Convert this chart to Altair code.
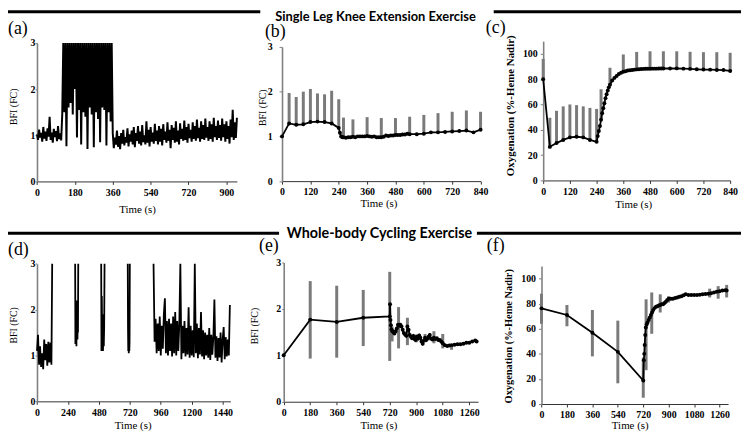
import altair as alt
import pandas as pd

W, H = 744, 426
SERIF = "Liberation Serif"
SANS = "Lato"

# ---------------- data ----------------
headings = ["Single Leg Knee Extension Exercise", "Whole-body Cycling Exercise"]
panel_labels = ["(a)", "(b)", "(c)", "(d)", "(e)", "(f)"]

# (a) knee extension, raw BFI trace sampled every 5 s (0-950 s)
a_step = 5
a_rest = [1.02, 0.90, 1.12, 0.95, 1.05, 0.86, 1.18, 0.93, 1.08, 0.88, 1.15, 0.97,
          1.40, 0.90, 1.06, 0.84, 1.14, 0.96, 1.09, 0.87, 1.20, 0.92, 1.04, 0.89]
a_exercise = [1.45, 3.6, 1.5, 3.4, 0.76, 3.6, 1.6, 3.5, 1.7, 3.6,
              1.45, 3.4, 2.0, 3.6, 0.95, 3.5, 1.55, 3.6, 0.8, 3.5,
              1.5, 3.6, 1.4, 3.5, 0.7, 3.6, 1.6, 3.4, 1.45, 3.6,
              0.74, 3.5, 1.5, 3.6, 1.35, 3.5, 0.85, 3.6, 1.6, 3.4,
              1.55, 3.6, 0.78, 3.5, 1.5, 3.6, 1.3, 3.5]
a_recovery = [1.05, 0.72, 0.95, 0.80, 1.10, 0.75, 0.98, 0.70, 1.05, 0.82,
              1.12, 0.78, 0.96, 0.84, 1.15, 0.76, 1.02, 0.86, 1.10, 0.80,
              1.18, 0.74, 1.05, 0.88, 1.20, 0.82, 1.08, 0.78, 1.22, 0.85,
              1.00, 0.80, 1.30, 0.84, 1.12, 0.76, 1.18, 0.86, 1.06, 0.82,
              1.25, 0.88, 1.10, 0.80, 1.20, 0.86, 1.14, 0.78, 1.24, 0.90,
              1.08, 0.84, 1.28, 0.88, 1.12, 0.72, 1.22, 0.90, 1.16, 0.84,
              1.30, 0.86, 1.10, 0.80, 1.26, 0.92, 1.14, 0.88, 1.32, 0.90,
              1.18, 0.84, 1.25, 0.94, 1.12, 0.86, 1.28, 0.92, 1.20, 0.88,
              1.34, 0.94, 1.16, 0.86, 1.30, 0.92, 1.22, 0.90, 1.36, 0.95,
              1.18, 0.88, 1.30, 0.92, 1.24, 0.86, 1.38, 0.96, 1.20, 0.90,
              1.32, 0.94, 1.22, 0.88, 1.36, 0.96, 1.24, 0.86, 1.30, 0.92,
              1.20, 0.82, 1.34, 0.96, 1.55, 0.90, 1.28, 0.94, 1.38]

# (b) knee extension, mean BFI with upper SD bars
b_t = [0, 30, 60, 90, 120, 150, 180, 210, 240, 245, 250, 255, 260, 270, 280, 290, 300,
       310, 320, 330, 340, 350, 360, 370, 380, 390, 400, 410, 420, 430, 440, 450, 460,
       470, 480, 490, 500, 510, 520, 530, 540, 570, 600, 630, 660, 690, 720, 750, 780,
       810, 840]
b_mean = [1.00, 1.29, 1.26, 1.27, 1.32, 1.33, 1.32, 1.29, 1.19, 1.08, 1.00, 0.98, 0.98,
          0.97, 0.98, 0.98, 0.99, 0.98, 1.00, 1.00, 1.00, 1.00, 1.01, 1.00, 0.99, 1.00,
          0.98, 0.98, 0.98, 0.99, 1.02, 1.01, 1.02, 1.02, 1.03, 1.03, 1.03, 1.04, 1.04,
          1.06, 1.05, 1.05, 1.06, 1.09, 1.09, 1.10, 1.11, 1.12, 1.13, 1.09, 1.15]
b_err_t = [30, 60, 90, 120, 150, 180, 210, 240, 260, 300, 360, 420, 480, 540, 600, 660,
           720, 780, 840]
b_err_hi = [1.97, 1.88, 2.00, 2.06, 1.96, 1.94, 2.02, 1.83, 1.42, 1.38, 1.43, 1.41, 1.41,
            1.44, 1.48, 1.52, 1.55, 1.58, 1.55]

# (c) knee extension, oxygenation
c_t = [0, 30, 60, 90, 120, 150, 180, 210, 240, 245, 250, 255, 260, 265, 270, 275, 280,
       285, 290, 295, 300, 310, 320, 330, 340, 350, 360, 370, 380, 390, 400, 410, 420,
       430, 440, 450, 460, 470, 480, 490, 500, 510, 520, 530, 540, 570, 600, 630, 660,
       690, 720, 750, 780, 810, 840]
c_mean = [80.0, 26.5, 29.5, 32.0, 34.0, 34.5, 34.0, 32.0, 30.5, 35.0, 39.0, 43.0, 48.0,
          53.0, 57.0, 61.0, 65.0, 68.0, 71.0, 73.5, 75.5, 79.0, 81.0, 82.5, 84.0, 85.0,
          85.8, 86.3, 86.8, 87.0, 87.3, 87.5, 87.7, 87.8, 88.0, 88.1, 88.2, 88.2, 88.2,
          88.3, 88.3, 88.3, 88.4, 88.4, 88.4, 88.4, 88.5, 88.3, 88.1, 87.8, 87.6, 87.5,
          87.3, 87.2, 86.5]
c_err_t = [0, 30, 60, 90, 120, 150, 180, 210, 240, 260, 300, 360, 420, 480, 540, 600,
           660, 720, 780, 840]
c_err_hi = [96.0, 49.5, 55.0, 58.5, 60.0, 59.5, 58.5, 57.3, 56.5, 72.0, 89.0, 99.5,
            101.5, 102.0, 102.0, 102.0, 101.6, 101.3, 101.3, 100.8]

# (d) cycling, raw BFI trace (segments separated by gaps)
d1_t = [0, 8, 16, 24, 32, 40, 48, 56, 64, 72, 80, 88, 96, 104, 112, 118]
d1_v = [1.10, 1.45, 0.80, 1.20, 0.75, 1.05, 0.70, 1.35, 0.90, 1.25, 0.78, 1.30, 0.85,
        1.28, 0.80, 3.5]
d2_t = [296, 298, 300, 302, 304, 306, 308, 310, 312, 314, 316, 318, 320]
d2_v = [3.5, 1.25, 2.1, 1.3, 1.9, 1.2, 2.2, 1.4, 1.8, 1.35, 2.0, 1.5, 3.5]
d3_t = [498, 500, 503, 506, 509, 512, 515, 518, 521, 524]
d3_v = [3.5, 1.1, 2.3, 1.15, 1.9, 1.1, 1.8, 1.2, 1.6, 3.5]
d4_t = [704, 706, 708, 710, 712, 714, 716, 718, 720]
d4_v = [3.5, 1.6, 1.1, 1.5, 1.05, 1.4, 1.1, 1.3, 3.5]
d5_start, d5_step = 904, 8
d5_v = [3.5, 1.30, 1.80, 1.05, 1.70, 1.10, 1.85, 1.00, 1.65, 1.15,
        1.90, 2.25, 1.05, 1.75, 1.00, 1.80, 1.10, 1.70, 0.98, 1.85,
        1.05, 1.95, 1.00, 1.75, 1.10, 1.70, 3.5, 0.92, 1.65, 1.05,
        1.75, 0.98, 1.60, 1.02, 2.05, 0.95, 1.65, 1.00, 1.55, 0.96,
        3.5, 1.05, 1.70, 0.94, 1.60, 1.02, 1.95, 0.98, 1.55, 0.92,
        1.50, 1.00, 1.45, 0.95, 1.60, 0.90, 1.45, 1.02, 1.40, 2.22,
        0.95, 1.42, 0.88, 1.38, 0.96, 1.50, 0.85, 1.35, 1.62, 0.92,
        1.40, 0.98, 1.35, 1.00, 2.10]

# (e) cycling, mean BFI with SD bars
e_t = [0, 180, 360, 540, 720, 722, 725, 728, 732, 738, 745, 752, 760, 768, 776, 784, 792,
       800, 808, 816, 824, 832, 840, 848, 856, 864, 872, 880, 888, 896, 904, 912, 920,
       928, 936, 944, 952, 960, 968, 976, 984, 992, 1000, 1010, 1020, 1030, 1040, 1050,
       1060, 1070, 1080, 1095, 1110, 1125, 1140, 1160, 1180, 1200, 1220, 1240, 1260,
       1280, 1300, 1310]
e_mean = [1.00, 1.77, 1.72, 1.81, 1.84, 2.10, 1.76, 1.65, 1.56, 1.52, 1.50, 1.47, 1.52,
          1.58, 1.66, 1.64, 1.66, 1.62, 1.55, 1.48, 1.45, 1.42, 1.62, 1.55, 1.44, 1.40,
          1.37, 1.42, 1.35, 1.33, 1.40, 1.36, 1.43, 1.38, 1.30, 1.25, 1.32, 1.38, 1.33,
          1.36, 1.40, 1.44, 1.36, 1.34, 1.38, 1.35, 1.37, 1.33, 1.33, 1.30, 1.26, 1.22,
          1.20, 1.21, 1.22, 1.23, 1.24, 1.24, 1.25, 1.27, 1.27, 1.30, 1.32, 1.30]
e_err_t = [180, 360, 540, 720, 736, 780, 840, 900, 960, 1020, 1080, 1140]
e_err_lo = [0.93, 0.95, 1.20, 0.88, 1.30, 1.15, 1.22, 1.28, 1.28, 1.26, 1.15, 1.12]
e_err_hi = [2.60, 2.50, 2.41, 2.80, 1.62, 2.04, 1.81, 1.45, 1.46, 1.52, 1.46, 1.24]

# (f) cycling, oxygenation
f_t = [0, 180, 360, 540, 720, 724, 727, 730, 734, 738, 744, 750, 758, 766, 774, 782, 790,
       800, 810, 820, 830, 840, 850, 860, 870, 880, 890, 900, 915, 930, 945, 960, 975,
       990, 1005, 1020, 1040, 1060, 1080, 1100, 1120, 1140, 1160, 1180, 1200, 1220,
       1240, 1260, 1280, 1300, 1310]
f_mean = [76.3, 71.0, 56.8, 41.6, 18.7, 35.0, 40.0, 47.0, 55.0, 61.0, 63.5, 65.0, 67.0,
          69.0, 71.0, 73.0, 75.0, 76.5, 77.5, 78.0, 78.5, 79.0, 79.5, 79.5, 80.5, 81.5,
          83.0, 84.0, 84.0, 84.0, 84.5, 85.0, 85.5, 86.0, 86.8, 87.5, 87.0, 87.0, 87.0,
          87.0, 87.2, 87.5, 87.8, 88.0, 88.3, 89.0, 89.5, 90.0, 90.5, 90.8, 90.5]
f_err_t = [0, 180, 360, 540, 720, 740, 780, 840, 900, 1190, 1250, 1310]
f_err_lo = [64.0, 62.0, 38.0, 16.5, 5.0, 27.0, 56.0, 73.0, 81.0, 85.0, 84.0, 85.0]
f_err_hi = [88.0, 79.0, 75.0, 66.5, 37.0, 83.5, 89.0, 87.5, 86.0, 92.0, 94.0, 95.0]

# ---------------- tables ----------------
a_vals = a_rest + a_exercise + a_recovery
df_a = pd.DataFrame({"t": [i * a_step for i in range(len(a_vals))], "v": a_vals})

d5_t = [d5_start + i * d5_step for i in range(len(d5_v))]
df_d = pd.concat([
    pd.DataFrame({"t": tt, "v": vv, "seg": k})
    for k, (tt, vv) in enumerate([(d1_t, d1_v), (d2_t, d2_v), (d3_t, d3_v),
                                  (d4_t, d4_v), (d5_t, d5_v)])
], ignore_index=True)

b_lookup = dict(zip(b_t, b_mean))
c_lookup = dict(zip(c_t, c_mean))
df_b = pd.DataFrame({"t": b_t, "v": b_mean})
df_b_err = pd.DataFrame({"t": b_err_t, "lo": [b_lookup[t] for t in b_err_t], "hi": b_err_hi})
df_c = pd.DataFrame({"t": c_t, "v": c_mean})
df_c_err = pd.DataFrame({"t": c_err_t, "lo": [c_lookup[t] for t in c_err_t], "hi": c_err_hi})
df_e = pd.DataFrame({"t": e_t, "v": e_mean})
df_e_err = pd.DataFrame({"t": e_err_t, "lo": e_err_lo, "hi": e_err_hi})
df_f = pd.DataFrame({"t": f_t, "v": f_mean})
df_f_err = pd.DataFrame({"t": f_err_t, "lo": f_err_lo, "hi": f_err_hi})

# ---------------- panel geometry (plot-area pixels) ----------------
P = {
    "a": dict(xdom=[0, 950], xr=[29.3, 231.4], ydom=[0, 3], yr=[173, 33],
              xticks=[0, 180, 360, 540, 720, 900], yticks=[0, 1, 2, 3], ytitle="BFI (FC)",
              xt=[130.5, 28], yt=[-23.3, 97], ytick=2, ypad=0, ytfs=10, ytfw="normal"),
    "b": dict(xdom=[0, 840], xr=[277, 477.7], ydom=[0, 3], yr=[172.7, 37],
              xticks=[0, 120, 240, 360, 480, 600, 720, 840], yticks=[0, 1, 2, 3],
              ytitle="BFI (FC)", xt=[374.5, 22.5], yt=[-20, 98], ytick=3, ypad=7,
              ytfs=10, ytfw="normal"),
    "c": dict(xdom=[0, 840], xr=[541, 730], ydom=[0, 110], yr=[172, 31.2],
              xticks=[0, 120, 240, 360, 480, 600, 720, 840],
              yticks=[0, 20, 40, 60, 80, 100], ytitle="Oxygenation (%-Heme Nadir)",
              xt=[632, 24], yt=[-33, 96], ytick=3, ypad=3, ytfs=11, ytfw="bold"),
    "d": dict(xdom=[0, 1500], xr=[29.3, 224.8], ydom=[0, 3], yr=[395.3, 256.3],
              xticks=[0, 240, 480, 720, 960, 1200, 1440], yticks=[0, 1, 2, 3],
              ytitle="BFI (FC)", xt=[126, 24], yt=[-23.8, 318], ytick=2, ypad=0,
              ytfs=10, ytfw="normal"),
    "e": dict(xdom=[0, 1320], xr=[278.7, 475.2], ydom=[0, 3], yr=[395.7, 255],
              xticks=[0, 180, 360, 540, 720, 900, 1080, 1260], yticks=[0, 1, 2, 3],
              ytitle="BFI (FC)", xt=[374.5, 24], yt=[-29.2, 318.7], ytick=2, ypad=1,
              ytfs=10, ytfw="normal"),
    "f": dict(xdom=[0, 1320], xr=[539.3, 727.9], ydom=[0, 110], yr=[398, 258.6],
              xticks=[0, 180, 360, 540, 720, 900, 1080, 1260],
              yticks=[0, 20, 40, 60, 80, 100], ytitle="Oxygenation (%-Heme Nadir)",
              xt=[628.5, 22], yt=[-33.8, 329], ytick=3, ypad=3, ytfs=10.5, ytfw="bold"),
}


def enc(p, yfield):
    ax_x = alt.Axis(orient="bottom", offset=p["yr"][0] - H, values=p["xticks"],
                    title="Time (s)", titleX=p["xt"][0], titleY=p["xt"][1],
                    titleAlign="center", titleBaseline="middle", titleAngle=0,
                    titleFont=SERIF, titleFontSize=11, titleFontWeight="normal",
                    titleColor="black", tickSize=3, labelPadding=3, format="d",
                    labelFlush=False, labelOverlap=False, labelFont=SERIF,
                    labelFontSize=10, labelFontWeight="bold", labelColor="black",
                    domainColor="#333333", tickColor="#333333", domainWidth=1, grid=False)
    ax_y = alt.Axis(orient="left", offset=-p["xr"][0], values=p["yticks"],
                    title=p["ytitle"], titleX=p["yt"][0], titleY=p["yt"][1],
                    titleAngle=270, titleAlign="center", titleBaseline="middle",
                    titleFont=SERIF, titleFontSize=p["ytfs"], titleFontWeight=p["ytfw"],
                    titleColor="black", tickSize=p["ytick"], labelPadding=p["ypad"],
                    format="d", labelFlush=False, labelOverlap=False, labelFont=SERIF,
                    labelFontSize=10, labelFontWeight="bold", labelColor="black",
                    domainColor="#808080", tickColor="#808080", domainWidth=1.6, grid=False)
    x = alt.X("t:Q", scale=alt.Scale(domain=p["xdom"], range=p["xr"], nice=False,
                                     zero=False, clamp=True), axis=ax_x)
    y = alt.Y(f"{yfield}:Q", scale=alt.Scale(domain=p["ydom"], range=p["yr"], nice=False,
                                             zero=False, clamp=True), axis=ax_y)
    return x, y


def trace_panel(p, df, width, detail=None):
    x, y = enc(p, "v")
    kw = dict(x=x, y=y, order="t:Q")
    if detail:
        kw["detail"] = detail
    return alt.Chart(df).mark_line(color="black", strokeWidth=width).encode(**kw)


def mean_panel(p, df, df_err):
    x, y = enc(p, "v")
    xe, ye = enc(p, "lo")
    bars = alt.Chart(df_err).mark_rule(color="#7a7a7a", strokeWidth=3).encode(
        x=xe, y=ye, y2="hi:Q")
    line = alt.Chart(df).mark_line(color="black", strokeWidth=1.8).encode(x=x, y=y, order="t:Q")
    pts = alt.Chart(df).mark_circle(color="black", size=16, opacity=1).encode(x=x, y=y)
    return alt.layer(bars, line, pts)


pa = trace_panel(P["a"], df_a, 2.0)
pb = mean_panel(P["b"], df_b, df_b_err)
pc = mean_panel(P["c"], df_c, df_c_err)
pd_ = trace_panel(P["d"], df_d, 1.8, detail="seg:N")
pe = mean_panel(P["e"], df_e, df_e_err)
pf = mean_panel(P["f"], df_f, df_f_err)

dummy = pd.DataFrame({"k": [0]})


def txt(s, x, y, size, font, weight="normal", align="left", baseline="alphabetic"):
    return alt.Chart(dummy).mark_text(text=s, font=font, fontSize=size, fontWeight=weight,
                                      align=align, baseline=baseline, color="black").encode(
        x=alt.value(x), y=alt.value(y))


def hline(x0, x1, y):
    return alt.Chart(dummy).mark_rule(color="black", strokeWidth=3).encode(
        x=alt.value(x0), x2=alt.value(x1), y=alt.value(y))


decor = [
    hline(0, 255, 1.5), hline(491, 741, 1.5),
    txt(headings[0], 371.5, 6.5, 13, SANS, "bold", "center", "middle"),
    hline(0, 274, 225.3), hline(474, 741, 225.3),
    txt(headings[1], 375.5, 226, 14.5, SANS, "bold", "center", "middle"),
    txt(panel_labels[0], 0, 23.5, 18, SERIF),
    txt(panel_labels[1], 259.7, 26.5, 18, SERIF),
    txt(panel_labels[2], 483, 23, 18, SERIF),
    txt(panel_labels[3], 0, 247.5, 18, SERIF),
    txt(panel_labels[4], 253.7, 243, 18, SERIF),
    txt(panel_labels[5], 484, 243, 18, SERIF),
]

chart = alt.layer(pa, pb, pc, pd_, pe, pf, *decor).resolve_scale(
    x="independent", y="independent").resolve_axis(
    x="independent", y="independent").properties(
    width=W, height=H, autosize=alt.AutoSizeParams(type="none"), padding=0,
    background="white").configure_view(stroke=None)

chart.save("out.html", embed_options={"renderer": "svg", "actions": False})
